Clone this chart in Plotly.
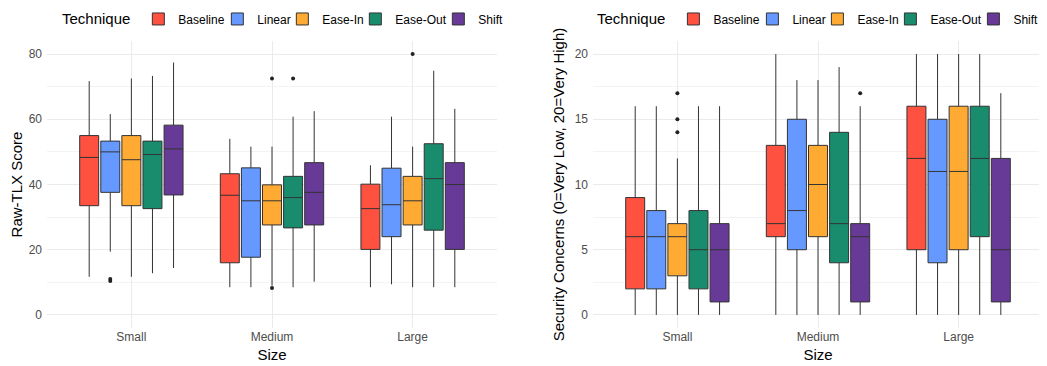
import plotly.graph_objects as go

techniques = ["Baseline", "Linear", "Ease-In", "Ease-Out", "Shift"]
sizes = ["Small", "Medium", "Large"]
colors = ["#FF5140", "#6699FF", "#FFAA33", "#1A8C6E", "#673A98"]
legend_widths = [34, 20, 28, 38, 28]  # legend entry widths (px), style only

# Raw-TLX score (per technique: values for Small, Medium, Large)
tlx_low = {"Baseline": [11.7, 8.5, 8.5], "Linear": [19.4, 8.5, 9.4], "Ease-In": [11.7, 9.0, 8.5],
           "Ease-Out": [12.8, 8.5, 8.5], "Shift": [14.4, 10.2, 8.5]}
tlx_q1 = {"Baseline": [33.5, 16.0, 20.1], "Linear": [37.6, 17.7, 24.0], "Ease-In": [33.5, 27.6, 27.6],
          "Ease-Out": [32.6, 26.7, 26.0], "Shift": [36.8, 27.6, 20.1]}
tlx_med = {"Baseline": [48.3, 36.7, 32.6], "Linear": [50.0, 35.0, 33.8], "Ease-In": [47.6, 35.0, 35.0],
           "Ease-Out": [49.2, 36.0, 41.8], "Shift": [50.9, 37.6, 40.0]}
tlx_q3 = {"Baseline": [55.0, 43.3, 40.1], "Linear": [53.3, 45.1, 45.0], "Ease-In": [55.0, 39.9, 42.5],
          "Ease-Out": [53.3, 42.5, 52.5], "Shift": [58.2, 46.7, 46.7]}
tlx_high = {"Baseline": [71.7, 54.0, 45.9], "Linear": [61.6, 51.6, 60.8], "Ease-In": [72.5, 51.6, 51.6],
            "Ease-Out": [73.3, 60.8, 74.9], "Shift": [77.4, 62.5, 63.2]}
tlx_outliers = {"Linear": [("Small", 11.0), ("Small", 10.4)],
                "Ease-In": [("Medium", 72.5), ("Medium", 8.3), ("Large", 80.0)],
                "Ease-Out": [("Medium", 72.5)]}

# Security concerns (0-20)
sec_low = {"Baseline": [0, 0, 0], "Linear": [0, 0, 0], "Ease-In": [0, 0, 0],
           "Ease-Out": [0, 0, 0], "Shift": [0, 0, 0]}
sec_q1 = {"Baseline": [2, 6, 5], "Linear": [2, 5, 4], "Ease-In": [3, 6, 5],
          "Ease-Out": [2, 4, 6], "Shift": [1, 1, 1]}
sec_med = {"Baseline": [6, 7, 12], "Linear": [6, 8, 11], "Ease-In": [6, 10, 11],
           "Ease-Out": [5, 7, 12], "Shift": [5, 6, 5]}
sec_q3 = {"Baseline": [9, 13, 16], "Linear": [8, 15, 15], "Ease-In": [7, 13, 16],
          "Ease-Out": [8, 14, 16], "Shift": [7, 7, 12]}
sec_high = {"Baseline": [16, 20, 20], "Linear": [16, 18, 20], "Ease-In": [12, 18, 20],
            "Ease-Out": [16, 19, 20], "Shift": [16, 16, 17]}
sec_outliers = {"Ease-In": [("Small", 17), ("Small", 15), ("Small", 14)],
                "Shift": [("Medium", 17)]}

DODGE = 0.15
BOXW = 0.135

fig = go.Figure()


def add_panel(low, q1, med, q3, high, outliers, xa, ya, legend):
    for i, t in enumerate(techniques):
        off = (i - 2) * DODGE
        xs = [k + 1 + off for k in range(len(sizes))]
        fig.add_trace(go.Box(
            x=xs, q1=q1[t], median=med[t], q3=q3[t], lowerfence=low[t], upperfence=high[t],
            width=BOXW, whiskerwidth=0, fillcolor=colors[i],
            line=dict(color="#333333", width=1), name=t, boxpoints=False,
            xaxis=xa, yaxis=ya, legend=legend, showlegend=True,
            legendwidth=legend_widths[i]))
        if t in outliers:
            ox = [sizes.index(s) + 1 + off for s, v in outliers[t]]
            oy = [v for s, v in outliers[t]]
            fig.add_trace(go.Scatter(x=ox, y=oy, mode="markers",
                                     marker=dict(color="#222222", size=4),
                                     xaxis=xa, yaxis=ya, showlegend=False, hoverinfo="y"))


add_panel(tlx_low, tlx_q1, tlx_med, tlx_q3, tlx_high, tlx_outliers, "x", "y", "legend")
add_panel(sec_low, sec_q1, sec_med, sec_q3, sec_high, sec_outliers, "x2", "y2", "legend2")

grid = "#EBEBEB"
tickfont = dict(family="Liberation Sans, Arial", size=12, color="#4D4D4D")
titlefont = dict(family="Liberation Sans, Arial", size=15, color="#000000")

xcommon = dict(tickmode="array", tickvals=[1, 2, 3], ticktext=sizes, range=[0.4, 3.6],
               showgrid=True, gridcolor=grid, gridwidth=1, zeroline=False, showline=False,
               ticks="", tickfont=tickfont, title=dict(text="Size", font=titlefont, standoff=6))

legend_common = dict(orientation="h", xanchor="left", yref="container", y=0.968, yanchor="middle",
                     title=dict(text="Technique", font=dict(size=15, color="#000000")),
                     font=dict(size=12, color="#000000"), itemwidth=30, tracegroupgap=0,
                     bgcolor="rgba(0,0,0,0)")

fig.update_layout(
    width=1039, height=358,
    paper_bgcolor="white", plot_bgcolor="white",
    margin=dict(l=39, r=4, t=33, b=38),
    font=dict(family="Liberation Sans, Arial"),
    xaxis=dict(domain=[0, 0.4518], anchor="y", **xcommon),
    xaxis2=dict(domain=[0.5482, 1], anchor="y2", **xcommon),
    yaxis=dict(range=[-4, 84], tickvals=[0, 20, 40, 60, 80], showgrid=True, gridcolor=grid,
               gridwidth=1, zeroline=False, ticks="", tickfont=tickfont, ticklabelstandoff=4,
               minor=dict(dtick=10, tick0=0, showgrid=True, gridcolor="#F3F3F3", gridwidth=1),
               title=dict(text="Raw-TLX Score", font=titlefont, standoff=6)),
    yaxis2=dict(range=[-1, 21], tickvals=[0, 5, 10, 15, 20], showgrid=True, gridcolor=grid,
                gridwidth=1, zeroline=False, ticks="", tickfont=tickfont, anchor="x2",
                ticklabelstandoff=4,
                minor=dict(dtick=2.5, tick0=0, showgrid=True, gridcolor="#F3F3F3", gridwidth=1),
                title=dict(text="Security Concerns (0=Very Low, 20=Very High)", font=titlefont, standoff=6)),
    legend=dict(x=0.013, **legend_common),
    legend2=dict(x=0.562, **legend_common),
    showlegend=True,
)

fig.write_html("out.html")
